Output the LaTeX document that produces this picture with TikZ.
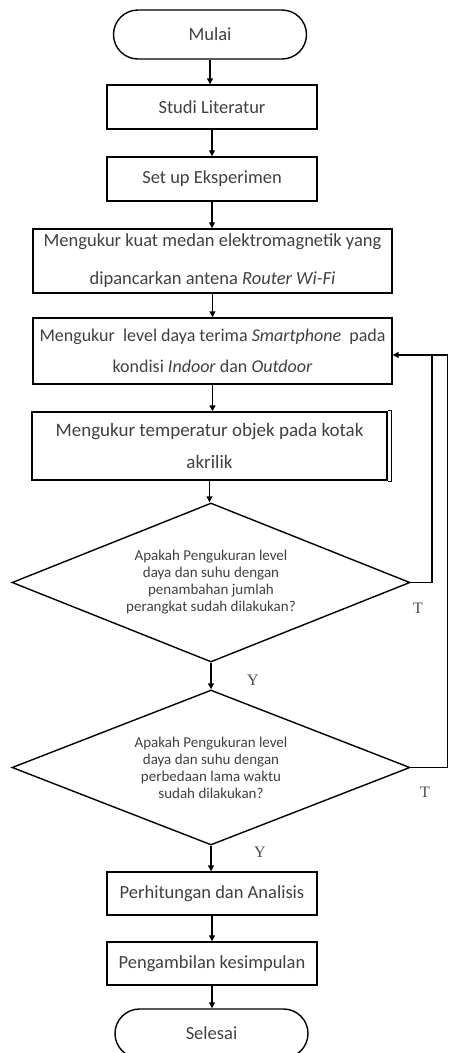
\documentclass[tikz,border=0pt]{standalone}
\usepackage{fontspec}
\setmainfont{Carlito}
\newfontfamily\serifT{Liberation Serif}
\usetikzlibrary{shapes.geometric,shapes.misc,arrows.meta}
\begin{document}
\begin{tikzpicture}[x=1pt,y=-1pt,line width=1.4pt,
  boxstyle/.style={draw, rectangle, inner sep=0pt, align=center, text=black!75,
    font=\fontsize{18.5}{20}\selectfont},
  termstyle/.style={draw, rounded rectangle, inner sep=0pt, minimum width=193pt,
    minimum height=49pt, text=black!75, font=\fontsize{18.5}{20}\selectfont},
  decstyle/.style={draw, diamond, aspect=2.5, inner sep=0pt, minimum width=398pt,
    align=center, text=black!75, font=\fontsize{15}{17}\selectfont},
  arr/.style={-{Triangle[length=6pt,width=6pt]}},
  lbl/.style={font=\serifT\fontsize{16}{18}\selectfont, text=black!70, inner sep=0pt}]
\useasboundingbox (0,0) rectangle (449,1053);
\clip (0,0) rectangle (449,1053);
\node[termstyle] (mulai) at (210,34.5) {Mulai};
\node[boxstyle, minimum width=210pt, minimum height=44pt] (studi) at (212,107) {Studi Literatur};
\node[boxstyle, minimum width=210pt, minimum height=44pt] (setup) at (212,179) {Set up Eksperimen};
\node[boxstyle, minimum width=359pt, minimum height=64pt, font=\fontsize{18.5}{38}\selectfont] (b3) at (212.5,261)
  {Mengukur kuat medan elektromagnetik yang\\dipancarkan antena \textit{Router Wi-Fi}};
\node[boxstyle, minimum width=359pt, minimum height=66pt, font=\fontsize{18}{31}\selectfont] (b4) at (212.5,351)
  {Mengukur \ level daya terima \textit{Smartphone} \ pada\\kondisi \textit{Indoor} dan \textit{Outdoor}};
\node[boxstyle, minimum width=355pt, minimum height=68pt, font=\fontsize{19}{32}\selectfont] (b5) at (209.5,446)
  {Mengukur temperatur objek pada kotak\\akrilik};
\draw[line width=1pt] ([yshift=1pt]b5.north east) -- ++(4,0) coordinate (s1) -- ([xshift=4pt,yshift=-1pt]b5.south east) -- ([yshift=-1pt]b5.south east);
\node[decstyle, minimum height=159pt] (d1) at (211,582.5)
  {Apakah Pengukuran level\\daya dan suhu dengan\\penambahan jumlah\\perangkat sudah dilakukan?};
\node[decstyle, minimum height=155pt] (d2) at (211,767.5)
  {Apakah Pengukuran level\\daya dan suhu dengan\\perbedaan lama waktu\\sudah dilakukan?};
\node[boxstyle, minimum width=210pt, minimum height=43pt] (hitung) at (212,893.5) {Perhitungan dan Analisis};
\node[boxstyle, minimum width=210pt, minimum height=43pt] (ambil) at (212,963.5) {Pengambilan kesimpulan};
\node[termstyle] (selesai) at (211.5,1033.5) {Selesai};
% connectors
\draw[arr] (mulai.south) -- (mulai.south |- studi.north);
\draw[arr] (studi.south) -- (studi.south |- setup.north);
\draw[arr] (setup.south) -- (setup.south |- b3.north);
\draw[arr] (b3.south) -- (b3.south |- b4.north);
\draw[arr] (b4.south) -- (b4.south |- b5.north);
\draw[arr] (b5.south) -- (b5.south |- d1.north);
\draw[arr] (d1.south) -- (d1.south |- d2.north);
\draw[arr] (d2.south) -- (d2.south |- hitung.north);
\draw[arr] (hitung.south) -- (hitung.south |- ambil.north);
\draw[arr] (ambil.south) -- (ambil.south |- selesai.north);
\coordinate (j1) at (432,582.5);
\coordinate (j2) at (432,355);
\coordinate (j3) at (447.5,767.5);
\coordinate (j4) at (447.5,355);
\draw[arr] (d1.east) -- (j1) -- (j2) -- ([yshift=-4pt]b4.east);
\draw (d2.east) -- (j3) -- (j4) -- (j2);
\node[lbl] (t1) at (418,608) {T};
\node[lbl] (t2) at (425,792) {T};
\node[lbl] (y1) at (253,680) {Y};
\node[lbl] (y2) at (260,852) {Y};
\end{tikzpicture}
\end{document}
